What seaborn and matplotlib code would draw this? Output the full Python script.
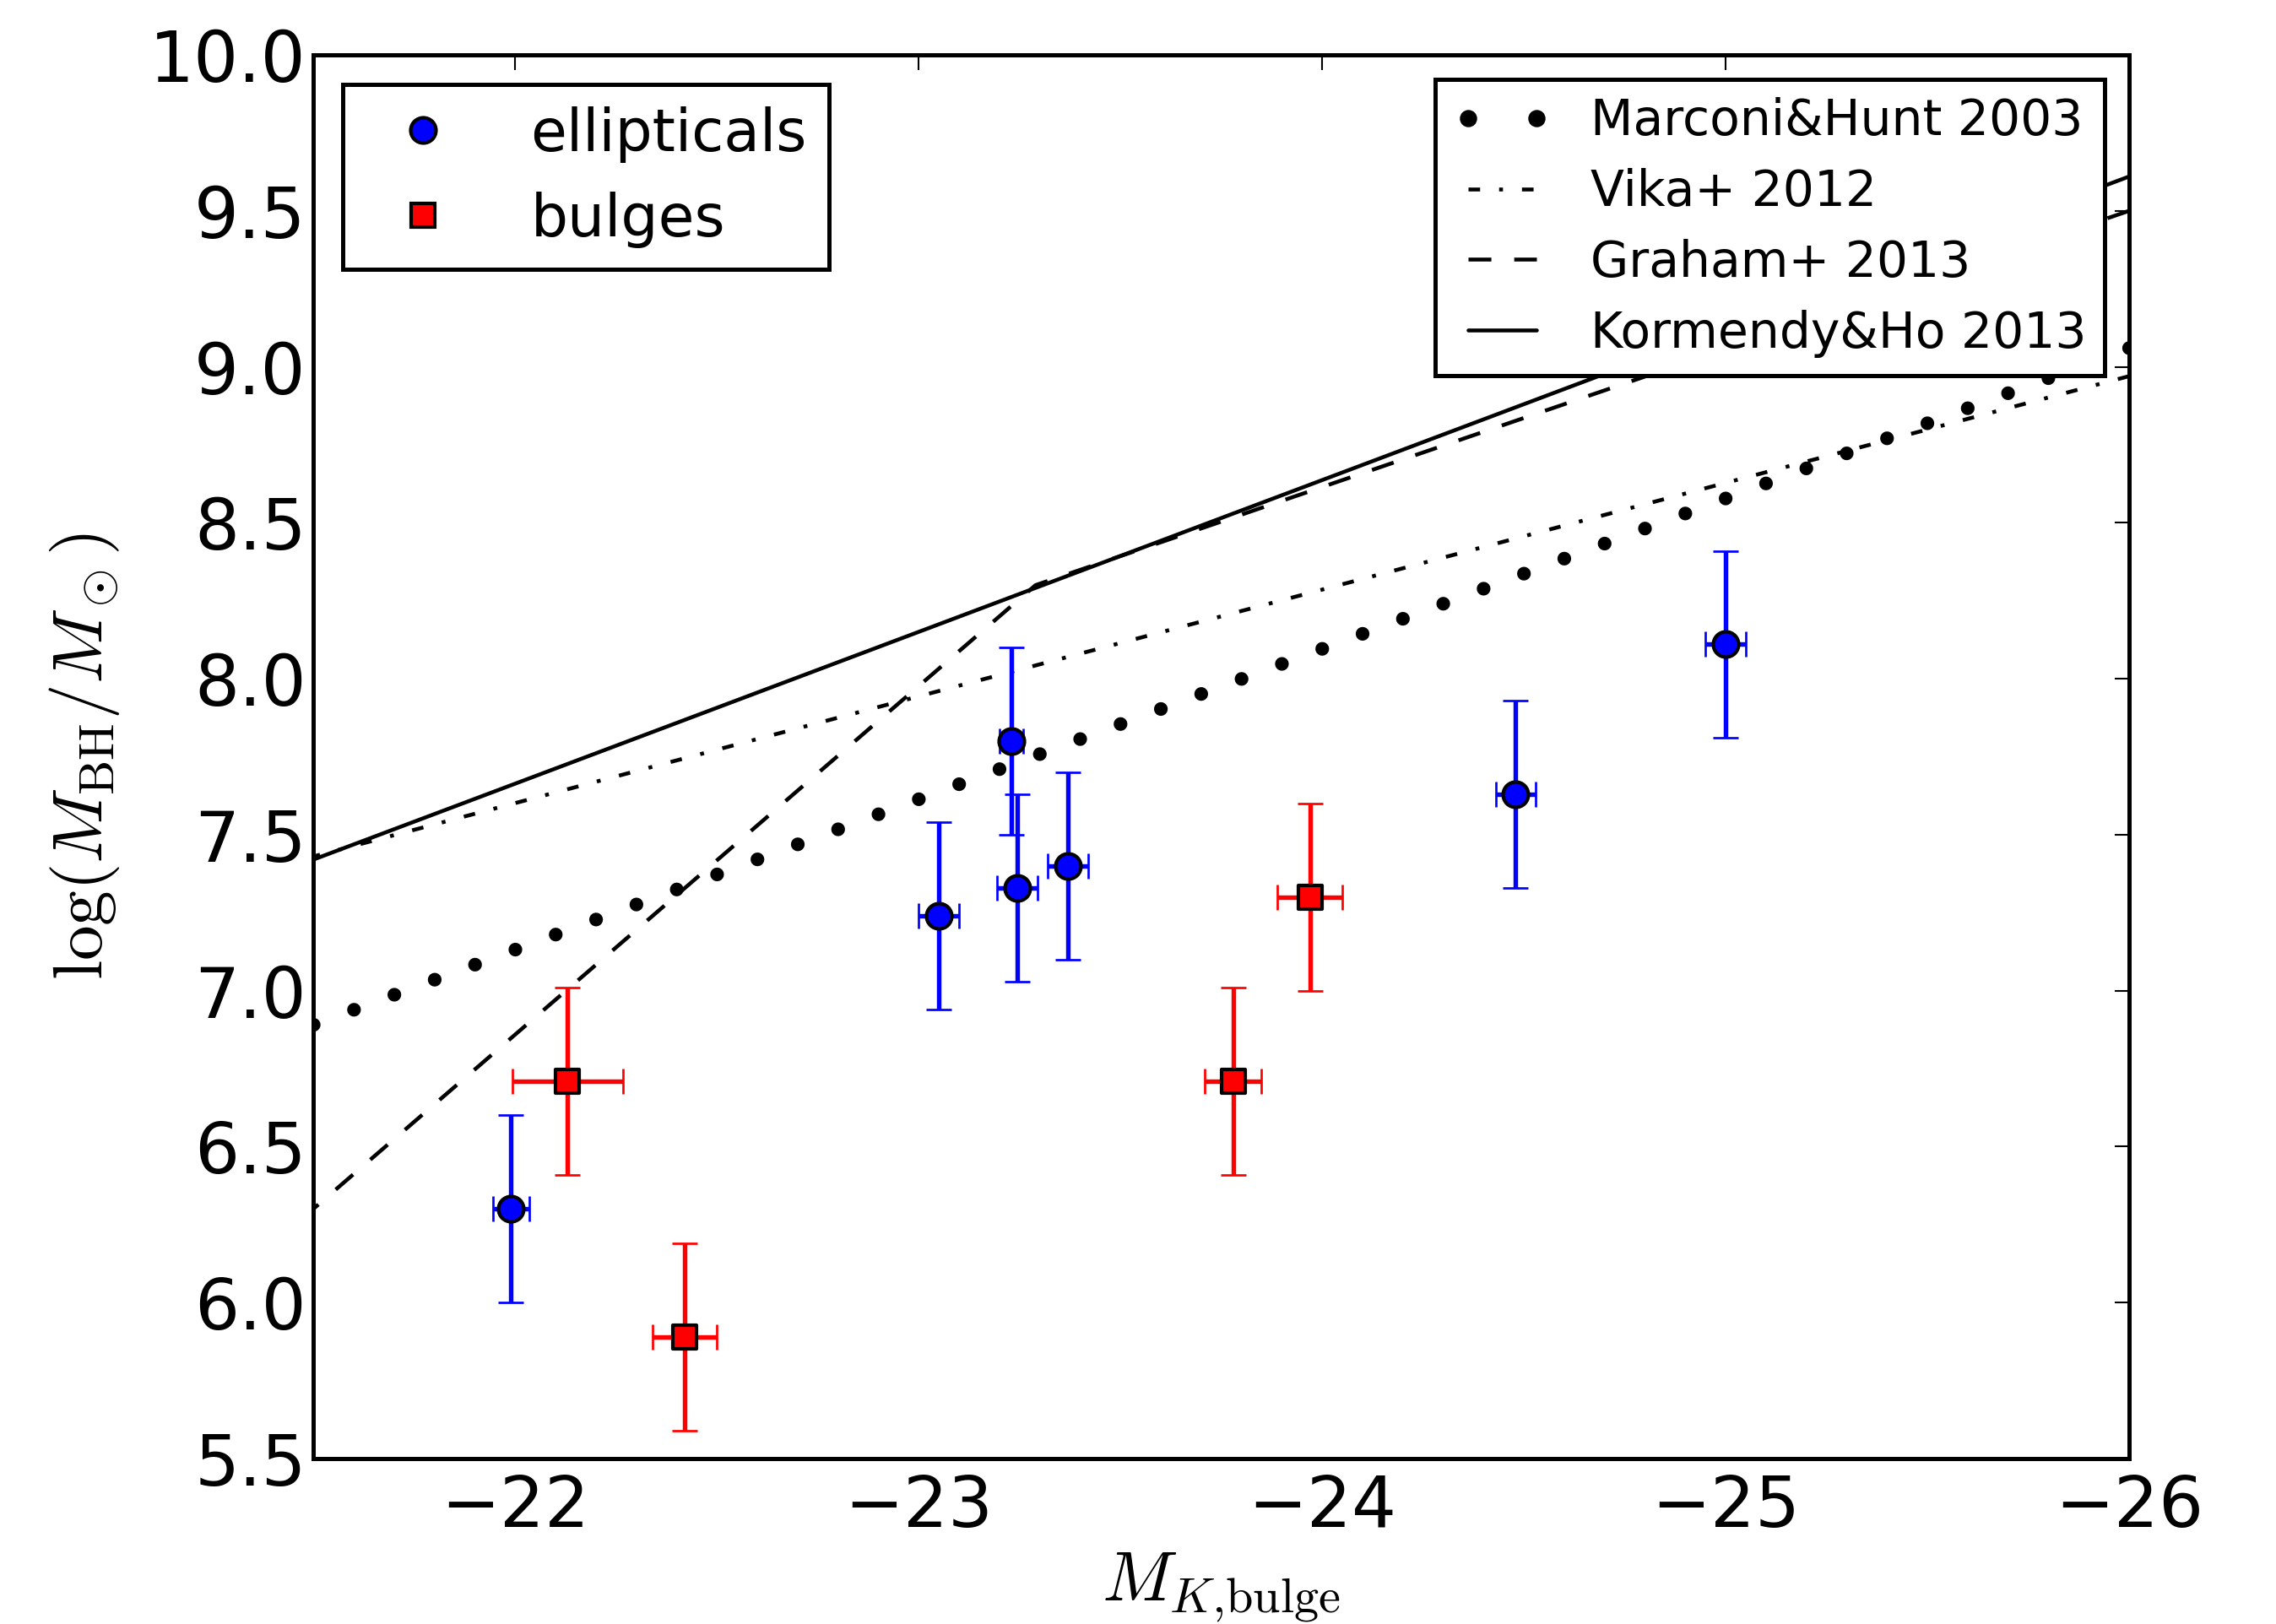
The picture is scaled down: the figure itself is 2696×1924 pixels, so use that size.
import numpy as np
import pandas as pd
import matplotlib
matplotlib.use("Agg")
import matplotlib.pyplot as plt
import seaborn as sns
from matplotlib.lines import Line2D

# ---------------- data ----------------
ell_mk = [-21.99, -23.05, -23.23, -23.245, -23.37, -24.48, -25.00]
ell_logm = [6.30, 7.24, 7.80, 7.33, 7.40, 7.63, 8.11]
ell_xerr = [0.045, 0.05, 0.03, 0.05, 0.05, 0.05, 0.05]
ell_yerr = [0.30, 0.30, 0.30, 0.30, 0.30, 0.30, 0.30]

bul_mk = [-22.13, -22.42, -23.78, -23.97]
bul_logm = [6.71, 5.89, 6.71, 7.30]
bul_xerr = [0.137, 0.08, 0.07, 0.08]
bul_yerr = [0.30, 0.30, 0.30, 0.30]

# scaling relations (end / break points)
mh_x = [-21.5, -26.0]
mh_y = [6.89, 9.06]
vika_x = [-21.5, -26.0]
vika_y = [7.43, 8.97]
graham_x = [-21.5, -23.29, -26.0]
graham_y = [6.30, 8.30, 9.50]
kh_x = [-21.5, -26.0]
kh_y = [7.42, 9.61]

x_ticks = [-22, -23, -24, -25, -26]
y_ticks = [5.5, 6.0, 6.5, 7.0, 7.5, 8.0, 8.5, 9.0, 9.5, 10.0]

# ---------------- style ----------------
sns.set_style("white")
plt.rcParams["font.family"] = ["DejaVu Sans"]
plt.rcParams["mathtext.fontset"] = "cm"
plt.rcParams["lines.scale_dashes"] = False
plt.rcParams["axes.unicode_minus"] = True
for k in ["text.color", "axes.labelcolor", "xtick.color", "ytick.color",
          "axes.edgecolor"]:
    plt.rcParams[k] = "k"

W, H, DPI = 2696, 1924, 300
fig = plt.figure(figsize=(W / DPI, H / DPI), dpi=DPI)
ax = fig.add_axes([371 / W, 1 - 1728 / H, (2522 - 371) / W, (1728 - 65) / H])

lw_rel = 1.1
sns.lineplot(x=mh_x, y=mh_y, ax=ax, color="k", lw=3.9,
             linestyle=(0, (0.01, 12.23)), dash_capstyle="round", zorder=1)
sns.lineplot(x=vika_x, y=vika_y, ax=ax, color="k", lw=lw_rel,
             linestyle=(0, (3.3, 5.4, 1.1, 5.4)), zorder=1)
sns.lineplot(x=graham_x, y=graham_y, ax=ax, color="k", lw=lw_rel,
             linestyle=(0, (6.5, 6.5)), zorder=1)
sns.lineplot(x=kh_x, y=kh_y, ax=ax, color="k", lw=lw_rel,
             linestyle="-", zorder=1)

# error bars
ax.errorbar(ell_mk, ell_logm, xerr=ell_xerr, yerr=ell_yerr, fmt="none",
            ecolor="#0000ff", elinewidth=1.3, capsize=3.5, capthick=0.65, zorder=2)
ax.errorbar(bul_mk, bul_logm, xerr=bul_xerr, yerr=bul_yerr, fmt="none",
            ecolor="#ff0000", elinewidth=1.3, capsize=3.5, capthick=0.65, zorder=2)

# points
ell_df = pd.DataFrame({"mk": ell_mk, "logm": ell_logm})
bul_df = pd.DataFrame({"mk": bul_mk, "logm": bul_logm})
sns.scatterplot(data=ell_df, x="mk", y="logm", ax=ax, marker="o", s=7.2 ** 2,
                color="#0000ff", edgecolor="k", linewidth=1.0, zorder=3)
sns.scatterplot(data=bul_df, x="mk", y="logm", ax=ax, marker="s", s=6.6 ** 2,
                color="#ff0000", edgecolor="k", linewidth=1.0, zorder=3)

# axes
ax.set_xlim(-21.5, -26.0)
ax.set_ylim(5.5, 10.0)
ax.set_xticks(x_ticks)
ax.set_yticks(y_ticks)
ax.set_yticklabels([f"{v:.1f}" for v in y_ticks])
ax.tick_params(axis="both", which="major", direction="in", length=4.2, width=0.5,
               top=True, right=True, labelsize=20, color="k", labelcolor="k")
ax.tick_params(axis="x", pad=4)
ax.tick_params(axis="y", pad=2)
for sp in ax.spines.values():
    sp.set_linewidth(1.2)
    sp.set_color("k")
ax.grid(False)
ax.set_xlabel(r"$M_{K{,}\mathrm{bulge}}$", fontsize=20, labelpad=3)
ax.set_ylabel(r"$\log(M_{\mathrm{BH}}/M_\odot)$", fontsize=20, labelpad=8)

# legends
h_ell = Line2D([], [], ls="none", marker="o", ms=7.2, mfc="#0000ff", mec="k", mew=1.0)
h_bul = Line2D([], [], ls="none", marker="s", ms=6.6, mfc="#ff0000", mec="k", mew=1.0)
leg1 = ax.legend([h_ell, h_bul], ["ellipticals", "bulges"], loc="upper left",
                 fontsize=16.7, numpoints=1, handlelength=2.0, handletextpad=0.83,
                 borderpad=0.37, labelspacing=0.49, borderaxespad=0.5,
                 fancybox=False, framealpha=1, edgecolor="k")
leg1.get_frame().set_linewidth(1.2)
ax.add_artist(leg1)

h_mh = Line2D([], [], ls="none", marker="o", ms=3.9, color="k")
h_vika = Line2D([], [], color="k", lw=lw_rel, linestyle=(0, (3.3, 5.4, 1.1, 5.4)))
h_gr = Line2D([], [], color="k", lw=lw_rel, linestyle=(0, (6.5, 6.5)))
h_kh = Line2D([], [], color="k", lw=lw_rel, linestyle="-")
leg2 = ax.legend([h_mh, h_vika, h_gr, h_kh],
                 ["Marconi&Hunt 2003", "Vika+ 2012", "Graham+ 2013", "Kormendy&Ho 2013"],
                 loc="upper right", fontsize=14, numpoints=2, handlelength=2.0,
                 handletextpad=0.8, borderpad=0.36, labelspacing=0.46,
                 borderaxespad=0.5, fancybox=False, framealpha=1, edgecolor="k")
leg2.get_frame().set_linewidth(1.2)

fig.savefig("out.png", dpi=DPI)
